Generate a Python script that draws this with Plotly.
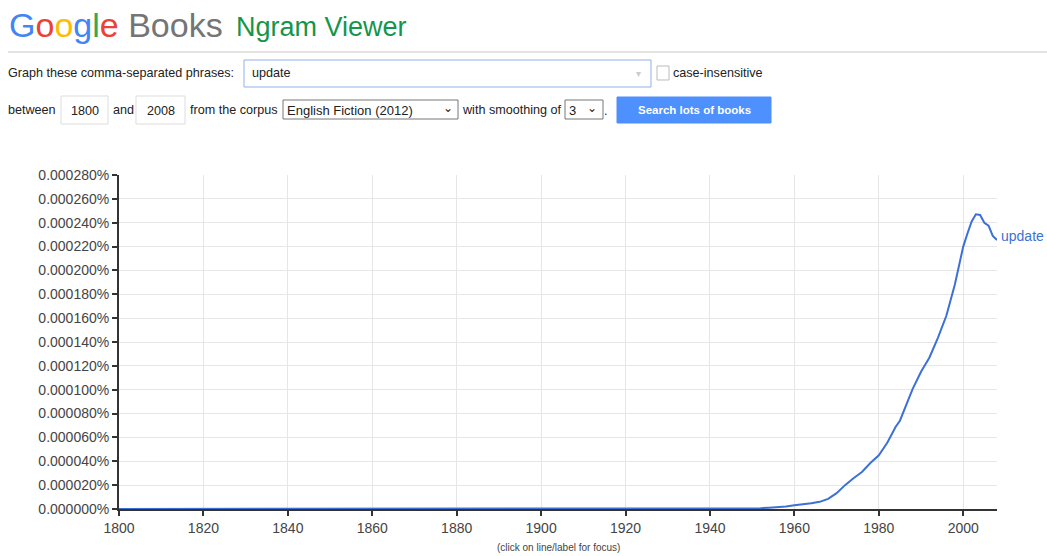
import plotly.graph_objects as go

# ---- data (values in percent) ----
years = [1800, 1805, 1810, 1815, 1820, 1825, 1830, 1835, 1840, 1845, 1848,
         1850, 1852, 1854, 1856, 1858, 1860, 1863, 1866, 1869, 1872, 1875,
         1880, 1884, 1887, 1890, 1893, 1896, 1900, 1910, 1920, 1930, 1940,
         1945, 1950, 1952, 1954, 1956, 1958, 1960, 1962, 1964, 1966, 1968,
         1970, 1972, 1974, 1976, 1978, 1980, 1982, 1984, 1985, 1986, 1988,
         1990, 1992, 1994, 1996, 1998, 1999, 2000, 2001, 2002, 2003, 2004,
         2005, 2006, 2007, 2008]
update_pct = [0.00000010, 0.00000010, 0.00000012, 0.00000010, 0.00000012, 0.00000010,
              0.00000012, 0.00000010, 0.00000012, 0.00000015, 0.00000020,
              0.00000060, 0.00000070, 0.00000065, 0.00000050, 0.00000020, 0.00000015,
              0.00000040, 0.00000045, 0.00000035, 0.00000015, 0.00000012,
              0.00000020, 0.00000030, 0.00000040, 0.00000040, 0.00000030, 0.00000015,
              0.00000012, 0.00000010, 0.00000010, 0.00000012, 0.00000015,
              0.00000025, 0.00000045, 0.00000070, 0.00000110, 0.00000150, 0.00000220,
              0.00000310, 0.00000370, 0.00000480, 0.00000600, 0.00000850,
              0.00001330, 0.00002000, 0.00002580, 0.00003100, 0.00003850, 0.00004500,
              0.00005550, 0.00006900, 0.00007400, 0.00008300, 0.00010050,
              0.00011500, 0.00012700, 0.00014350, 0.00016200, 0.00018800, 0.00020500,
              0.00022000, 0.00023100, 0.00024100, 0.00024700, 0.00024650,
              0.00024000, 0.00023750, 0.00022900, 0.00022550]
series_name = "update"
x_ticks = [1800, 1820, 1840, 1860, 1880, 1900, 1920, 1940, 1960, 1980, 2000]

W, H = 1047, 556
L, T = 119, 175
R = W - 997
B = H - 509
PW, PH = W - L - R, H - T - B
FONT = "Liberation Sans, Arial, sans-serif"
BLUE = "#3d70d6"


def px(x):
    return (x - L) / PW


def py(y):
    return (T + PH - y) / PH


fig = go.Figure()
fig.add_trace(go.Scatter(x=years, y=update_pct, mode="lines", name=series_name,
                         line=dict(color=BLUE, width=2), hoverinfo="x+y"))

shapes = []
ann = []


def text(x, y, s, size=12.6, color="#222", anchor="left", bold=False, family=FONT):
    if bold:
        s = "<b>" + s + "</b>"
    ann.append(dict(x=px(x), y=py(y), xref="paper", yref="paper", text=s,
                    showarrow=False, xanchor=anchor, yanchor="middle",
                    borderpad=0, borderwidth=0,
                    font=dict(size=size, color=color, family=family)))


def rect(x0, y0, x1, y1, line="#ccc", fill="white", lw=1):
    shapes.append(dict(type="rect", xref="paper", yref="paper",
                       x0=px(x0), x1=px(x1), y0=py(y0), y1=py(y1),
                       line=dict(color=line, width=lw), fillcolor=fill, layer="above"))


# header
logo = ("<span style='color:#4285F4'>G</span><span style='color:#EA4335'>o</span>"
        "<span style='color:#FBBC05'>o</span><span style='color:#4285F4'>g</span>"
        "<span style='color:#34A853'>l</span><span style='color:#EA4335'>e</span>"
        "<span style='color:#757575'> Books</span>")
text(9, 25, logo, size=34)
text(236, 27, "Ngram Viewer", size=27, color="#13964a")
shapes.append(dict(type="line", xref="paper", yref="paper", x0=px(8), x1=px(1047),
                   y0=py(52), y1=py(52), line=dict(color="#c8c8c8", width=1)))

# row 1
text(8, 73, "Graph these comma-separated phrases:")
rect(244, 60, 651, 87, line="#8fb1ea")
text(252, 73, "update")
text(638, 74, "▾", size=10, color="#ccc", anchor="center")
rect(657, 66, 669, 80, line="#bbb")
text(673, 73, "case-insensitive")

# row 2
text(8, 110, "between")
rect(61, 96, 108, 124, line="#ddd")
text(84.5, 111, "1800", anchor="center")
text(113, 110, "and")
rect(136, 96, 185, 124, line="#ddd")
text(160.5, 111, "2008", anchor="center")
text(190, 110, "from the corpus")
rect(283, 100, 458, 119, line="#767676")
text(287, 110, "English Fiction (2012)", size=13)
text(448, 108, "⌄", size=12, color="#222", anchor="center")
text(462, 110, "with smoothing of")
rect(565, 100, 603, 119, line="#767676")
text(569, 110, "3", size=13)
text(592, 108, "⌄", size=12, color="#222", anchor="center")
text(604, 111, ".")
rect(617, 97, 771, 123, line="#4d90fe", fill="#4d90fe")
text(694, 110, "Search lots of books", size=11.5, color="white", anchor="center", bold=True)

# series label
ann.append(dict(x=years[-1], y=update_pct[-1], xref="x", yref="y", text=series_name,
                showarrow=False, xanchor="left", yanchor="middle", xshift=2, yshift=4,
                font=dict(size=14, color=BLUE, family=FONT)))

# footer
text(558, 547, "(click on line/label for focus)", size=10, color="#444", anchor="center")

fig.update_layout(
    width=W, height=H, margin=dict(l=L, r=R, t=T, b=B, pad=0),
    paper_bgcolor="white", plot_bgcolor="white", showlegend=False,
    font=dict(family=FONT, size=14, color="#444"),
    shapes=shapes, annotations=ann,
    xaxis=dict(range=[1800, 2008], tickvals=x_ticks, showgrid=True, gridcolor="#e6e6e6",
               showline=True, linecolor="#333", linewidth=2, ticks="outside",
               ticklen=5, tickwidth=1.5, tickcolor="#333", zeroline=False,
               tickfont=dict(size=14, color="#444", family=FONT)),
    yaxis=dict(range=[0, 0.00028], dtick=0.00002, tickformat=".6f", ticksuffix="%",
               showgrid=True, gridcolor="#e6e6e6", showline=True, linecolor="#333",
               linewidth=2, ticks="outside", ticklen=5, tickwidth=1.5, tickcolor="#333",
               zeroline=False, tickfont=dict(size=14, color="#444", family=FONT)),
)

fig.write_html("out.html", config={"displayModeBar": False},
               post_script="document.body.style.margin='0';document.body.style.overflow='hidden';")
